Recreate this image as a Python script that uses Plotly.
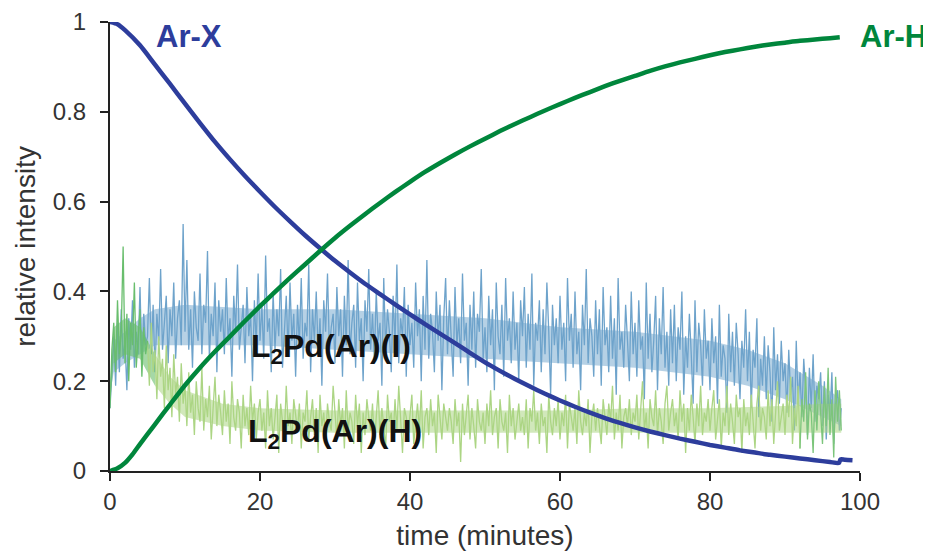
import plotly.graph_objects as go

# ---------------- data ----------------
# smooth traces
t_arx = [0, 1, 2, 4, 6, 8, 10, 12, 14, 16, 18, 20, 22, 24, 26, 28, 30, 32, 34, 36, 38, 40,
         42, 44, 46, 48, 50, 52, 54, 56, 58, 60, 62, 64, 66, 68, 70, 72, 74, 76, 78, 80,
         82, 84, 86, 88, 90, 92, 94, 96, 97.2, 97.4, 98, 99]
ar_x = [1.0, 0.995, 0.982, 0.948, 0.905, 0.862, 0.818, 0.775, 0.733, 0.694, 0.657, 0.622,
        0.588, 0.556, 0.525, 0.496, 0.468, 0.442, 0.417, 0.394, 0.371, 0.349, 0.327, 0.306,
        0.285, 0.263, 0.242, 0.223, 0.205, 0.188, 0.172, 0.157, 0.143, 0.130, 0.118, 0.107,
        0.097, 0.088, 0.080, 0.072, 0.065, 0.058, 0.052, 0.046, 0.041, 0.036, 0.032, 0.028,
        0.024, 0.020, 0.018, 0.026, 0.025, 0.024]

t_arh = [0, 1, 2, 3, 4, 5, 6, 8, 10, 12, 14, 16, 18, 20, 22, 24, 26, 28, 30, 32, 34, 36, 38,
         40, 42, 44, 46, 48, 50, 52, 54, 56, 58, 60, 62, 64, 66, 68, 70, 72, 74, 76, 78, 80,
         82, 84, 86, 88, 90, 92, 94, 96, 97.3]
ar_h = [0.0, 0.006, 0.018, 0.037, 0.060, 0.082, 0.104, 0.148, 0.191, 0.230, 0.266, 0.300,
        0.334, 0.367, 0.399, 0.430, 0.460, 0.490, 0.519, 0.546, 0.572, 0.597, 0.621, 0.644,
        0.666, 0.686, 0.705, 0.723, 0.740, 0.757, 0.773, 0.788, 0.803, 0.817, 0.831, 0.844,
        0.857, 0.869, 0.880, 0.891, 0.901, 0.910, 0.918, 0.926, 0.933, 0.939, 0.945, 0.950,
        0.954, 0.958, 0.961, 0.964, 0.966]

# noisy traces, sampled every 0.25 min from 0 to 97.5 min
t_noise = [i * 0.25 for i in range(391)]

pd_ar_i = [
    0.14, 0.24, 0.30, 0.19, 0.33, 0.22, 0.36, 0.25, 0.29, 0.18, 0.34, 0.27, 0.38, 0.23, 0.31, 0.26, 0.41, 0.24, 0.35, 0.28,
    0.30, 0.43, 0.26, 0.37, 0.22, 0.35, 0.29, 0.45, 0.27, 0.33, 0.39, 0.24, 0.36, 0.30, 0.42, 0.25, 0.34, 0.38, 0.28, 0.55,
    0.31, 0.47, 0.27, 0.36, 0.23, 0.40, 0.32, 0.29, 0.44, 0.26, 0.37, 0.33, 0.49, 0.25, 0.35, 0.30, 0.42, 0.22, 0.38, 0.31,
    0.36, 0.26, 0.43, 0.29, 0.34, 0.21, 0.39, 0.31, 0.46, 0.27, 0.33, 0.37, 0.24, 0.41, 0.30, 0.35, 0.20, 0.38, 0.28, 0.44,
    0.29, 0.37, 0.25, 0.48, 0.31, 0.34, 0.22, 0.40, 0.27, 0.36, 0.30, 0.45, 0.23, 0.33, 0.39, 0.26, 0.42, 0.29, 0.35, 0.21,
    0.37, 0.28, 0.43, 0.25, 0.33, 0.30, 0.46, 0.22, 0.36, 0.29, 0.40, 0.26, 0.34, 0.19, 0.38, 0.31, 0.44, 0.27, 0.32, 0.35,
    0.24, 0.41, 0.30, 0.36, 0.21, 0.39, 0.28, 0.47, 0.26, 0.33, 0.37, 0.23, 0.42, 0.29, 0.34, 0.20, 0.38, 0.31, 0.45, 0.27,
    0.35, 0.25, 0.40, 0.29, 0.33, 0.19, 0.43, 0.27, 0.36, 0.31, 0.22, 0.39, 0.28, 0.46, 0.24, 0.34, 0.30, 0.41, 0.21, 0.37,
    0.28, 0.33, 0.23, 0.42, 0.30, 0.36, 0.20, 0.39, 0.27, 0.47, 0.25, 0.35, 0.31, 0.22, 0.40, 0.29, 0.37, 0.18, 0.34, 0.43,
    0.26, 0.38, 0.30, 0.21, 0.41, 0.28, 0.34, 0.24, 0.44, 0.29, 0.33, 0.19, 0.37, 0.27, 0.40, 0.23, 0.35, 0.31, 0.45, 0.25,
    0.32, 0.22, 0.39, 0.28, 0.36, 0.18, 0.42, 0.30, 0.26, 0.37, 0.21, 0.43, 0.29, 0.34, 0.24, 0.40, 0.27, 0.33, 0.20, 0.38,
    0.30, 0.41, 0.23, 0.35, 0.27, 0.44, 0.19, 0.33, 0.29, 0.38, 0.22, 0.36, 0.26, 0.42, 0.31, 0.17, 0.37, 0.28, 0.34, 0.24,
    0.39, 0.27, 0.33, 0.20, 0.43, 0.29, 0.35, 0.23, 0.40, 0.26, 0.31, 0.18, 0.37, 0.28, 0.45, 0.24, 0.34, 0.30, 0.21, 0.38,
    0.26, 0.36, 0.19, 0.41, 0.28, 0.32, 0.22, 0.39, 0.25, 0.34, 0.17, 0.43, 0.27, 0.31, 0.23, 0.37, 0.29, 0.20, 0.40, 0.26,
    0.33, 0.21, 0.38, 0.27, 0.30, 0.16, 0.42, 0.25, 0.35, 0.22, 0.29, 0.39, 0.18, 0.34, 0.26, 0.41, 0.23, 0.31, 0.19, 0.36,
    0.24, 0.37, 0.20, 0.32, 0.27, 0.40, 0.17, 0.30, 0.23, 0.35, 0.26, 0.15, 0.38, 0.22, 0.33, 0.28, 0.19, 0.36, 0.25, 0.29,
    0.18, 0.34, 0.24, 0.30, 0.15, 0.37, 0.21, 0.28, 0.25, 0.13, 0.35, 0.22, 0.31, 0.19, 0.33, 0.26, 0.16, 0.29, 0.23, 0.36,
    0.20, 0.31, 0.14, 0.27, 0.23, 0.34, 0.12, 0.25, 0.19, 0.30, 0.16, 0.28, 0.22, 0.11, 0.32, 0.18, 0.26, 0.15, 0.29, 0.20,
    0.24, 0.13, 0.27, 0.17, 0.21, 0.09, 0.29, 0.15, 0.22, 0.12, 0.25, 0.18, 0.08, 0.23, 0.14, 0.26, 0.11, 0.19, 0.16, 0.22,
    0.10, 0.20, 0.07, 0.17, 0.12, 0.22, 0.06, 0.15, 0.18, 0.09, 0.14,
]

pd_ar_h = [
    0.14, 0.27, 0.33, 0.22, 0.38, 0.26, 0.31, 0.50, 0.24, 0.35, 0.20, 0.33, 0.28, 0.42, 0.23, 0.30, 0.36, 0.21, 0.32, 0.26,
    0.29, 0.19, 0.33, 0.22, 0.27, 0.16, 0.30, 0.21, 0.25, 0.14, 0.28, 0.18, 0.23, 0.12, 0.26, 0.17, 0.21, 0.11, 0.24, 0.15,
    0.19, 0.10, 0.22, 0.13, 0.17, 0.08, 0.20, 0.14, 0.11, 0.23, 0.09, 0.16, 0.12, 0.19, 0.07, 0.15, 0.21, 0.10, 0.17, 0.13,
    0.08, 0.18, 0.11, 0.15, 0.06, 0.20, 0.12, 0.09, 0.16, 0.13, 0.05, 0.17, 0.10, 0.14, 0.08, 0.19, 0.11, 0.15, 0.07, 0.13,
    0.16, 0.09, 0.13, 0.05, 0.18, 0.10, 0.14, 0.07, 0.12, 0.17, 0.04, 0.15, 0.11, 0.08, 0.19, 0.10, 0.13, 0.06, 0.16, 0.12,
    0.09, 0.15, 0.05, 0.13, 0.11, 0.18, 0.07, 0.12, 0.16, 0.08, 0.14, 0.04, 0.17, 0.10, 0.13, 0.06, 0.15, 0.11, 0.09, 0.19,
    0.12, 0.07, 0.16, 0.10, 0.14, 0.05, 0.18, 0.09, 0.13, 0.11, 0.06, 0.17, 0.10, 0.15, 0.04, 0.13, 0.08, 0.16, 0.12, 0.09,
    0.15, 0.06, 0.12, 0.18, 0.08, 0.14, 0.10, 0.05, 0.17, 0.11, 0.13, 0.07, 0.16, 0.09, 0.19, 0.10, 0.04, 0.14, 0.12, 0.08,
    0.13, 0.17, 0.06, 0.11, 0.15, 0.09, 0.18, 0.05, 0.12, 0.14, 0.08, 0.16, 0.10, 0.13, 0.04, 0.17, 0.11, 0.07, 0.15, 0.12,
    0.09, 0.14, 0.11, 0.06, 0.16, 0.10, 0.13, 0.02, 0.15, 0.08, 0.12, 0.17, 0.07, 0.14, 0.10, 0.05, 0.16, 0.11, 0.09, 0.13,
    0.06, 0.15, 0.10, 0.18, 0.08, 0.12, 0.14, 0.05, 0.16, 0.11, 0.09, 0.13, 0.04, 0.17, 0.10, 0.14, 0.07, 0.12, 0.15, 0.09,
    0.12, 0.08, 0.16, 0.05, 0.14, 0.11, 0.18, 0.09, 0.13, 0.06, 0.15, 0.10, 0.12, 0.04, 0.17, 0.11, 0.08, 0.14, 0.10, 0.16,
    0.07, 0.13, 0.10, 0.17, 0.05, 0.15, 0.12, 0.09, 0.14, 0.06, 0.18, 0.11, 0.08, 0.13, 0.10, 0.16, 0.04, 0.12, 0.15, 0.09,
    0.14, 0.10, 0.06, 0.16, 0.12, 0.08, 0.15, 0.11, 0.19, 0.07, 0.13, 0.09, 0.17, 0.05, 0.12, 0.14, 0.10, 0.16, 0.08, 0.13,
    0.11, 0.17, 0.07, 0.14, 0.20, 0.09, 0.13, 0.05, 0.16, 0.12, 0.10, 0.18, 0.08, 0.14, 0.11, 0.06, 0.15, 0.19, 0.09, 0.13,
    0.16, 0.10, 0.13, 0.07, 0.18, 0.11, 0.15, 0.04, 0.14, 0.09, 0.17, 0.12, 0.06, 0.15, 0.10, 0.19, 0.08, 0.13, 0.11, 0.16,
    0.09, 0.14, 0.18, 0.07, 0.12, 0.16, 0.05, 0.13, 0.10, 0.19, 0.08, 0.15, 0.11, 0.06, 0.17, 0.12, 0.14, 0.04, 0.16, 0.10,
    0.13, 0.08, 0.17, 0.11, 0.05, 0.15, 0.19, 0.09, 0.14, 0.12, 0.07, 0.18, 0.10, 0.16, 0.06, 0.13, 0.20, 0.09, 0.12, 0.15,
    0.08, 0.17, 0.12, 0.21, 0.06, 0.14, 0.10, 0.19, 0.05, 0.16, 0.11, 0.22, 0.07, 0.15, 0.13, 0.04, 0.18, 0.09, 0.20, 0.12,
    0.06, 0.19, 0.10, 0.23, 0.08, 0.16, 0.03, 0.21, 0.11, 0.18, 0.09,
]

# dense core of each noisy band (where the trace fills most solidly), read every few minutes
t_band = [0, 0.5, 2, 4, 6, 10, 20, 30, 40, 50, 60, 70, 80, 85, 90, 95, 97.5]
pd_i_band_lo = [0.17, 0.22, 0.24, 0.26, 0.28, 0.28, 0.28, 0.27, 0.26, 0.25, 0.24, 0.23, 0.21, 0.19, 0.16, 0.12, 0.10]
pd_i_band_hi = [0.19, 0.29, 0.31, 0.34, 0.36, 0.37, 0.36, 0.36, 0.35, 0.34, 0.32, 0.31, 0.29, 0.27, 0.24, 0.19, 0.16]
t_band_h = [0, 0.5, 2, 4, 5, 6, 8, 10, 15, 20, 30, 40, 50, 60, 70, 80, 90, 95, 97.5]
pd_h_band_lo = [0.15, 0.24, 0.26, 0.25, 0.22, 0.19, 0.15, 0.12, 0.10, 0.09, 0.085, 0.085, 0.085, 0.085, 0.085, 0.085, 0.085, 0.085, 0.085]
pd_h_band_hi = [0.19, 0.32, 0.34, 0.32, 0.29, 0.26, 0.21, 0.18, 0.15, 0.14, 0.135, 0.135, 0.135, 0.135, 0.14, 0.14, 0.145, 0.15, 0.15]

x_ticks = [0, 20, 40, 60, 80, 100]
y_ticks = [0, 0.2, 0.4, 0.6, 0.8, 1]
y_tick_labels = ["0", "0.2", "0.4", "0.6", "0.8", "1"]

# ---------------- styling ----------------
C_ARX = "#2d3d9c"
C_ARH = "#00863c"
C_PDI = "#6ea3cb"
C_PDH_LIGHT = "#acd584"
C_PDH_DARK = "#69be6d"
C_PDH_END = "#7cc57b"
FONT = "Liberation Sans, Arial, Helvetica, sans-serif"

fig = go.Figure()


def band(t, lo, hi, color, opacity):
    return go.Scatter(x=list(t) + list(t)[::-1], y=list(hi) + list(lo)[::-1], mode="lines",
                      fill="toself", fillcolor=color, opacity=opacity,
                      line=dict(width=0, color=color), hoverinfo="skip")


fig.add_trace(band(t_band, pd_i_band_lo, pd_i_band_hi, C_PDI, 0.5))
fig.add_trace(go.Scatter(x=t_noise, y=pd_ar_i, mode="lines",
                         line=dict(color=C_PDI, width=1.3), hoverinfo="skip"))

# green noisy trace: dense core split into early part (saturated) and the rest (pale)
k = 5  # index in t_band_h where colour changes (t = 5 min)
fig.add_trace(band(t_band_h[k:], pd_h_band_lo[k:], pd_h_band_hi[k:], C_PDH_LIGHT, 0.55))
fig.add_trace(band(t_band_h[:k + 1], pd_h_band_lo[:k + 1], pd_h_band_hi[:k + 1], C_PDH_DARK, 0.6))

seg_a, seg_b = 20, 368
fig.add_trace(go.Scatter(x=t_noise[seg_a:seg_b + 1], y=pd_ar_h[seg_a:seg_b + 1], mode="lines",
                         line=dict(color=C_PDH_LIGHT, width=1.3), hoverinfo="skip"))
fig.add_trace(go.Scatter(x=t_noise[:seg_a + 1], y=pd_ar_h[:seg_a + 1], mode="lines",
                         line=dict(color=C_PDH_DARK, width=1.3), hoverinfo="skip"))
fig.add_trace(go.Scatter(x=t_noise[seg_b:], y=pd_ar_h[seg_b:], mode="lines",
                         line=dict(color=C_PDH_END, width=1.3), hoverinfo="skip"))

fig.add_trace(go.Scatter(x=t_arx, y=ar_x, mode="lines",
                         line=dict(color=C_ARX, width=4.5, shape="spline", smoothing=0.6),
                         hoverinfo="skip"))
fig.add_trace(go.Scatter(x=t_arh, y=ar_h, mode="lines",
                         line=dict(color=C_ARH, width=4.5, shape="spline", smoothing=0.6),
                         hoverinfo="skip"))

annots = [
    dict(xref="x", x=10.5, y=0.967, text="<b>Ar-X</b>", font=dict(color=C_ARX, size=31)),
    dict(xref="paper", x=1.044, y=0.967, text="<b>Ar-H</b>", font=dict(color=C_ARH, size=31)),
    dict(xref="x", x=29.5, y=0.272, text="<b>L<sub>2</sub>Pd(Ar)(I)</b>",
         font=dict(color="#111111", size=32)),
    dict(xref="x", x=30.0, y=0.084, text="<b>L<sub>2</sub>Pd(Ar)(H)</b>",
         font=dict(color="#111111", size=32)),
]
for a in annots:
    a["font"]["family"] = FONT
    fig.add_annotation(yref="y", showarrow=False, xanchor="center", yanchor="middle", **a)

# the page body adds an 8 px offset, so the figure is 8 px smaller on each side
fig.update_layout(
    width=923, height=548,
    margin=dict(l=102, r=71, t=14, b=85, autoexpand=False),
    paper_bgcolor="white", plot_bgcolor="white",
    showlegend=False,
    font=dict(family=FONT, color="#333333"),
)
fig.update_xaxes(
    range=[0, 100], tickvals=x_ticks, ticks="outside", ticklen=8, tickwidth=2,
    tickcolor="#222222", showline=True, linecolor="#222222", linewidth=2,
    showgrid=False, zeroline=False, tickfont=dict(size=24, color="#333333"),
    ticklabelstandoff=0, automargin=False,
    title=dict(text="time (minutes)", font=dict(size=28, color="#333333"), standoff=12),
)
fig.update_yaxes(
    range=[0, 1], tickvals=y_ticks, ticktext=y_tick_labels, ticks="outside", ticklen=8,
    tickwidth=2, tickcolor="#222222", showline=True, linecolor="#222222", linewidth=2,
    showgrid=False, zeroline=False, tickfont=dict(size=24, color="#333333"),
    ticklabelstandoff=9, automargin=False,
    title=dict(text="relative intensity", font=dict(size=28, color="#333333"), standoff=9),
)

fig.write_html("out.html")
